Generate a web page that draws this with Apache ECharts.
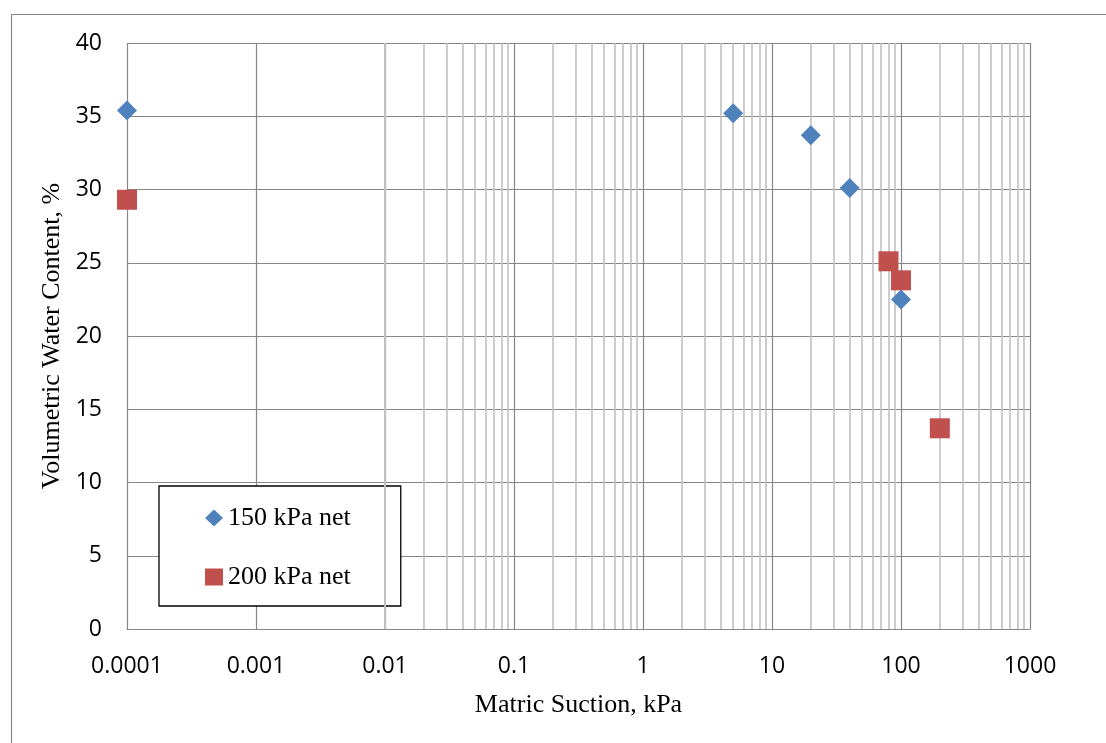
<!DOCTYPE html>
<html>
<head>
<meta charset="utf-8">
<title>Volumetric Water Content vs Matric Suction</title>
<script src="https://cdn.jsdelivr.net/npm/echarts@6/dist/echarts.min.js"></script>
<style>
  html, body { margin: 0; padding: 0; background: #ffffff; }
  #chart { width: 1106px; height: 743px; }
</style>
</head>
<body>
<div id="chart"></div>
<script>
// Measured points: [matric suction (kPa), volumetric water content (%)]
const series150Name = '150 kPa net';
const series150 = [
  [0.0001, 35.4],
  [5, 35.2],
  [20, 33.7],
  [40, 30.1],
  [100, 22.5]
];
const series200Name = '200 kPa net';
const series200 = [
  [0.0001, 29.3],
  [80, 25.1],
  [100, 23.8],
  [200, 13.7]
];

// Axis labels and ranges
const xTickLabels = ['0.0001', '0.001', '0.01', '0.1', '1', '10', '100', '1000'];
const xMin = 0.0001;
const xMax = 1000;
const yMin = 0;
const yMax = 40;
const yStep = 5;
const xTitle = 'Matric Suction, kPa';
const yTitle = 'Volumetric Water Content, %';

// Decade starts and in-decade multipliers for the light log gridlines
const minorDecades = [0.0001, 0.001, 0.01, 0.1, 1, 10, 100];
const minorMultipliers = [2, 3, 4, 5, 6, 7, 8, 9];

const minorLines = [];
minorDecades.forEach(function (d) {
  minorMultipliers.forEach(function (m) {
    minorLines.push({ xAxis: +(d * m).toPrecision(6) });
  });
});

const sansFont = '"Open Sans", "Liberation Sans", sans-serif';
const serifFont = '"Liberation Serif", "DejaVu Serif", serif';
const majorGrid = '#878787';
const minorGrid = '#c0c0c0';

const chart = echarts.init(document.getElementById('chart'), null, { renderer: 'canvas' });

chart.setOption({
  animation: false,
  backgroundColor: '#ffffff',
  graphic: [{
    type: 'rect',
    left: 9,
    top: 12,
    silent: true,
    shape: { x: 0, y: 0, width: 1120, height: 760 },
    style: { fill: 'none', stroke: '#8a8a8a', lineWidth: 1.2 }
  }],
  grid: {
    left: 127,
    top: 43,
    right: 76,
    bottom: 114,
    containLabel: false
  },
  legend: {
    orient: 'vertical',
    left: 159,
    top: 486,
    padding: [19, 50, 16, 46],
    itemGap: 33,
    itemWidth: 18,
    itemHeight: 17,
    backgroundColor: '#ffffff',
    borderColor: '#000000',
    borderWidth: 1.3,
    borderRadius: 0,
    textStyle: { fontFamily: serifFont, fontSize: 26, color: '#000000' },
    data: [
      { name: series150Name, icon: 'diamond' },
      { name: series200Name, icon: 'rect' }
    ]
  },
  xAxis: {
    type: 'log',
    logBase: 10,
    min: xMin,
    max: xMax,
    splitNumber: 7,
    name: xTitle,
    nameLocation: 'middle',
    nameGap: 63,
    nameTextStyle: { fontFamily: serifFont, fontSize: 26, color: '#000000' },
    axisLine: { show: true, lineStyle: { color: majorGrid, width: 1.2 } },
    axisTick: { show: false },
    axisLabel: {
      margin: 26,
      fontFamily: sansFont,
      fontSize: 23,
      color: '#000000',
      formatter: function (v, i) { return xTickLabels[i] !== undefined ? xTickLabels[i] : String(v); }
    },
    splitLine: { show: true, lineStyle: { color: majorGrid, width: 1.2 } }
  },
  yAxis: {
    type: 'value',
    min: yMin,
    max: yMax,
    interval: yStep,
    name: yTitle,
    nameLocation: 'middle',
    nameGap: 60,
    nameTextStyle: { fontFamily: serifFont, fontSize: 26, color: '#000000' },
    axisLine: { show: false },
    axisTick: { show: false },
    axisLabel: {
      margin: 25,
      fontFamily: sansFont,
      fontSize: 23,
      color: '#000000'
    },
    splitLine: { show: true, lineStyle: { color: majorGrid, width: 1.2 } }
  },
  series: [
    {
      // light gridlines at 2..9 within each decade
      type: 'scatter',
      name: 'minor-grid',
      data: [],
      silent: true,
      z: 1,
      markLine: {
        silent: true,
        symbol: ['none', 'none'],
        label: { show: false },
        lineStyle: { color: minorGrid, width: 1.6, type: 'solid', opacity: 1 },
        emphasis: { disabled: true },
        animation: false,
        data: minorLines
      }
    },
    {
      type: 'scatter',
      name: series150Name,
      data: series150,
      symbol: 'diamond',
      symbolSize: 20,
      clip: false,
      z: 5,
      itemStyle: { color: '#4F81BD', opacity: 1 }
    },
    {
      type: 'scatter',
      name: series200Name,
      data: series200,
      symbol: 'rect',
      symbolSize: 20,
      clip: false,
      z: 5,
      itemStyle: { color: '#C0504D', opacity: 1 }
    }
  ]
});
</script>
</body>
</html>
